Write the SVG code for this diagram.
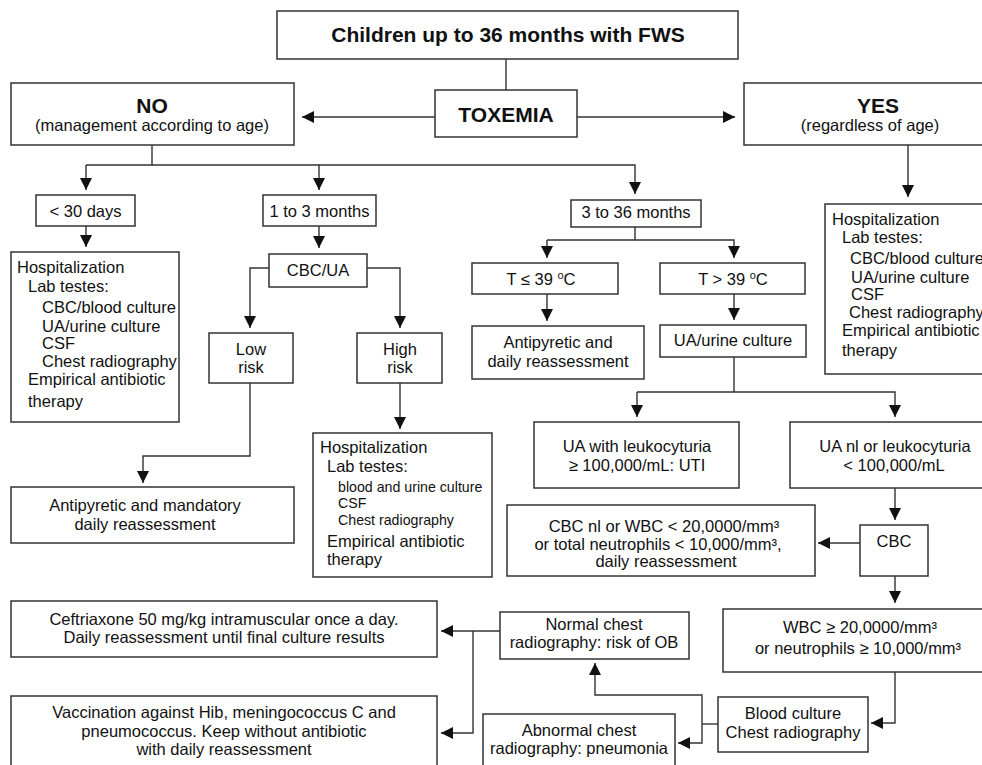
<svg xmlns="http://www.w3.org/2000/svg" width="982" height="765" viewBox="0 0 982 765">
<style>
rect{fill:#fff;stroke:#333;stroke-width:1.5}
text{font-family:"Liberation Sans",Arial,sans-serif;font-size:16.5px;fill:#111}
.c{text-anchor:middle}
.b{font-weight:bold;font-size:21px}
.s{font-size:14.2px}
.k path,.k line{fill:none;stroke:#333;stroke-width:1.4}
.k .a{marker-end:url(#ah)}
</style>
<defs>
<marker id="ah" markerUnits="userSpaceOnUse" markerWidth="12" markerHeight="12" refX="12" refY="6" orient="auto">
<path d="M0,0 L12,6 L0,12 z" fill="#111"/>
</marker>
</defs>
<rect width="982" height="765" style="fill:#fff;stroke:none"/>
<g id="connectors" class="k">
<line x1="506" y1="59" x2="506" y2="90"/>
<line class="a" x1="435" y1="117" x2="302" y2="117"/>
<line class="a" x1="577" y1="117" x2="735" y2="117"/>
<path d="M152,145 V165 H86"/>
<path class="a" d="M86,165 V190"/>
<path class="a" d="M152,165 H319 V190"/>
<path class="a" d="M319,165 H635 V194"/>
<path class="a" d="M908,145 V197"/>
<path class="a" d="M86,226 V247"/>
<path class="a" d="M319,226 V248"/>
<path class="a" d="M269,268 H250 V328"/>
<path class="a" d="M367,268 H400 V328"/>
<path class="a" d="M250,383 V456 H143 V483"/>
<path class="a" d="M400,383 V429"/>
<path d="M635,227 V240 H547"/>
<path class="a" d="M547,240 V258"/>
<path class="a" d="M635,240 H734 V258"/>
<path class="a" d="M547,294 V321"/>
<path class="a" d="M734,294 V320"/>
<path d="M734,357 V392 H637"/>
<path class="a" d="M637,392 V417"/>
<path class="a" d="M734,392 H895 V417"/>
<path class="a" d="M895,488 V520"/>
<path class="a" d="M860,543 H818"/>
<path class="a" d="M895,576 V603"/>
<path class="a" d="M895,672 V723 H871"/>
<path d="M718,724 H702"/>
<path class="a" d="M702,724 V695 H595 V663"/>
<path class="a" d="M702,724 V743 H678"/>
<path class="a" d="M500,631 H441"/>
<path class="a" d="M473,631 V733 H441"/>
</g>
<g id="title"><rect x="277" y="11" width="461" height="48"/><text class="c b" x="508" y="42">Children up to 36 months with FWS</text></g>
<g id="toxemia"><rect x="435" y="90" width="142" height="47"/><text class="c b" x="506" y="122">TOXEMIA</text></g>
<g id="no"><rect x="11" y="83" width="283" height="62"/><text class="c b" x="152" y="113">NO</text><text class="c" x="152" y="131">(management according to age)</text></g>
<g id="yes"><rect x="744" y="83" width="250" height="62"/><text class="c b" x="878" y="113">YES</text><text class="c" x="870" y="131">(regardless of age)</text></g>
<g id="lt30"><rect x="36" y="195" width="99" height="31"/><text class="c" x="85.5" y="217">&lt; 30 days</text></g>
<g id="m1to3"><rect x="263" y="195" width="113" height="31"/><text class="c" x="319.5" y="217">1 to 3 months</text></g>
<g id="m3to36"><rect x="571" y="200" width="130" height="27"/><text class="c" x="636" y="218">3 to 36 months</text></g>
<g id="hosp1"><rect x="11" y="252" width="168" height="170"/>
<text x="17" y="273">Hospitalization</text>
<text x="28" y="292">Lab testes:</text>
<text x="42" y="313">CBC/blood culture</text>
<text x="42" y="332">UA/urine culture</text>
<text x="42" y="349">CSF</text>
<text x="42" y="367">Chest radiography</text>
<text x="28" y="385">Empirical antibiotic</text>
<text x="28" y="407">therapy</text></g>
<g id="cbcua"><rect x="269" y="254" width="98" height="33"/><text class="c" x="318" y="276">CBC/UA</text></g>
<g id="lowrisk"><rect x="209" y="333" width="84" height="50"/><text class="c" x="251" y="355">Low</text><text class="c" x="251" y="373">risk</text></g>
<g id="highrisk"><rect x="357" y="333" width="85" height="50"/><text class="c" x="400" y="355">High</text><text class="c" x="400" y="373">risk</text></g>
<g id="antipyretic-mandatory"><rect x="11" y="487" width="283" height="56"/><text class="c" x="145" y="511">Antipyretic and mandatory</text><text class="c" x="145" y="530">daily reassessment</text></g>
<g id="hosp2"><rect x="313" y="433" width="179" height="144"/>
<text x="320" y="453">Hospitalization</text>
<text x="327" y="472">Lab testes:</text>
<text class="s" x="338" y="492">blood and urine culture</text>
<text class="s" x="338" y="508">CSF</text>
<text class="s" x="338" y="525">Chest radiography</text>
<text x="327" y="547">Empirical antibiotic</text>
<text x="327" y="565">therapy</text></g>
<g id="tle39"><rect x="472" y="263" width="146" height="31"/><text class="c" x="541" y="285">T ≤ 39 <tspan font-size="11" dy="-6">o</tspan><tspan dy="6">C</tspan></text></g>
<g id="tgt39"><rect x="660" y="263" width="145" height="31"/><text class="c" x="733" y="285">T &gt; 39 <tspan font-size="11" dy="-6">o</tspan><tspan dy="6">C</tspan></text></g>
<g id="antipyretic-daily"><rect x="472" y="326" width="172" height="53"/><text class="c" x="558" y="348">Antipyretic and</text><text class="c" x="558" y="367">daily reassessment</text></g>
<g id="uaurine"><rect x="660" y="325" width="146" height="32"/><text class="c" x="733" y="346">UA/urine culture</text></g>
<g id="hosp-yes"><rect x="825" y="204" width="170" height="170"/>
<text x="832" y="225">Hospitalization</text>
<text x="842" y="243">Lab testes:</text>
<text x="850" y="264" font-size="15.5">CBC/blood culture</text>
<text x="851" y="283">UA/urine culture</text>
<text x="851" y="300">CSF</text>
<text x="849" y="318" font-size="15">Chest radiography</text>
<text x="842" y="336">Empirical antibiotic</text>
<text x="842" y="356">therapy</text></g>
<g id="uti"><rect x="534" y="422" width="205" height="66"/><text class="c" x="637" y="452">UA with leukocyturia</text><text class="c" x="637" y="471">≥ 100,000/mL: UTI</text></g>
<g id="uanl"><rect x="790" y="422" width="205" height="66"/><text class="c" x="895" y="452">UA nl or leukocyturia</text><text class="c" x="894" y="471">&lt; 100,000/mL</text></g>
<g id="cbc"><rect x="860" y="525" width="68" height="51"/><text class="c" x="894" y="547">CBC</text></g>
<g id="cbcnl"><rect x="507" y="505" width="308" height="71"/><text class="c" x="664" y="532">CBC nl or WBC &lt; 20,0000/mm³</text><text class="c" x="658" y="550">or total neutrophils &lt; 10,000/mm³,</text><text class="c" x="666" y="567">daily reassessment</text></g>
<g id="wbc"><rect x="723" y="609" width="272" height="63"/><text class="c" x="860" y="633">WBC ≥ 20,0000/mm³</text><text class="c" x="858" y="654">or neutrophils ≥ 10,000/mm³</text></g>
<g id="bloodculture"><rect x="718" y="697" width="150" height="55"/><text class="c" x="793" y="719">Blood culture</text><text class="c" x="793" y="738">Chest radiography</text></g>
<g id="normalchest"><rect x="500" y="612" width="189" height="47"/><text class="c" x="594" y="630">Normal chest</text><text class="c" x="594" y="648">radiography: risk of OB</text></g>
<g id="abnormalchest"><rect x="483" y="714" width="192" height="60"/><text class="c" x="579" y="736">Abnormal chest</text><text class="c" x="579" y="754">radiography: pneumonia</text></g>
<g id="ceftriaxone"><rect x="11" y="601" width="426" height="56"/><text class="c" x="224" y="625">Ceftriaxone 50 mg/kg intramuscular once a day.</text><text class="c" x="224" y="643">Daily reassessment until final culture results</text></g>
<g id="vaccination"><rect x="11" y="696" width="426" height="80"/><text class="c" x="224" y="718">Vaccination against Hib, meningococcus C and</text><text class="c" x="224" y="737">pneumococcus. Keep without antibiotic</text><text class="c" x="224" y="755">with daily reassessment</text></g>
</svg>
